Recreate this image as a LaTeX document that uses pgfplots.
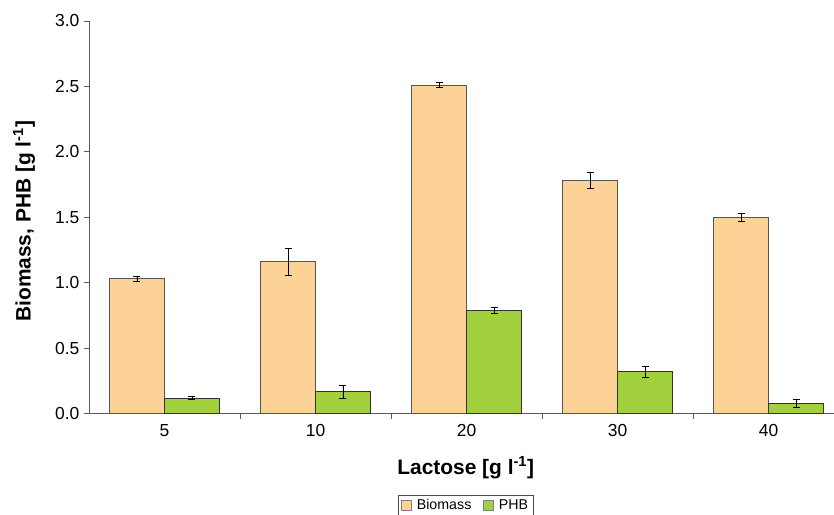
\documentclass[border=0pt]{standalone}
\usepackage{fontspec}
\setmainfont{Liberation Sans}
\usepackage{pgfplots}
\usepackage{pgfplotstable}
\pgfplotsset{compat=1.18}
\definecolor{bio}{RGB}{252,210,150}
\definecolor{phb}{RGB}{162,207,60}
\definecolor{edge}{RGB}{85,85,85}
\pgfplotstableread{
x y e
0 1.03 0.02
1 1.16 0.10
2 2.51 0.02
3 1.78 0.06
4 1.50 0.03
}\biomass
\pgfplotstableread{
x y e
0 0.12 0.01
1 0.17 0.05
2 0.79 0.02
3 0.32 0.04
4 0.08 0.03
}\phb
\begin{document}
\begin{tikzpicture}
\begin{axis}[
  scale only axis, width=745bp, height=393bp,
  ybar=0pt, bar width=55bp,
  xmin=-0.5, xmax=4.43, ymin=0, ymax=3,
  axis x line*=bottom, axis y line*=left,
  axis line style={draw=gray!70!black, line width=0.9bp},
  ytick={0,0.5,1,1.5,2,2.5,3},
  yticklabel style={xshift=-1bp, /pgf/number format/.cd, fixed, fixed zerofill, precision=1},
  /pgf/number format/assume math mode=true,
  xtick={0,1,2,3,4}, xticklabels={5,10,20,30,40},
  minor xtick={0.5,1.5,2.5,3.5},
  major x tick style={draw=none},
  tick style={draw=gray!70!black, line width=0.9bp},
  tick align=outside, tick pos=left,
  major tick length=5bp, minor tick length=5bp,
  tick label style={font=\fontsize{17.5}{20}\selectfont},
  xticklabel style={yshift=-2bp},
  label style={font=\bfseries\fontsize{21}{24}\selectfont},
  xlabel={Lactose [g l\textsuperscript{-1}]},
  ylabel={Biomass, PHB [g l\textsuperscript{-1}]},
  xlabel style={at={(rel axis cs:0.506,-0.137)}, anchor=center},
  ylabel style={at={(rel axis cs:-0.087,0.49)}, anchor=center},
  legend style={at={(0.506,-0.232)}, anchor=center, legend columns=2,
    draw=gray!60!black, font=\fontsize{14.3}{16}\selectfont,
    inner xsep=3bp, inner ysep=2bp,
    /tikz/every odd column/.append style={column sep=3bp},
    /tikz/every even column/.append style={column sep=10bp}},
  legend image code/.code={\draw[#1, draw=gray, line width=0.6bp] (0bp,-5bp) rectangle (10bp,5bp);},
  error bars/error bar style={black, line width=0.8bp},
  error bars/error mark options={black, rotate=90, mark size=3.5bp, line width=0.8bp},
]
\addplot[fill=bio, draw=edge, line width=0.9bp,
  error bars/.cd, y dir=both, y explicit]
  table[x=x, y=y, y error=e] {\biomass};
\addlegendentry{Biomass}
\addplot[fill=phb, draw=black!80, line width=0.9bp,
  error bars/.cd, y dir=both, y explicit]
  table[x=x, y=y, y error=e] {\phb};
\addlegendentry{PHB}
\end{axis}
\path (current axis.south west) ++(-89bp,-101bp) rectangle ++(834bp,515bp);
\end{tikzpicture}
\end{document}
